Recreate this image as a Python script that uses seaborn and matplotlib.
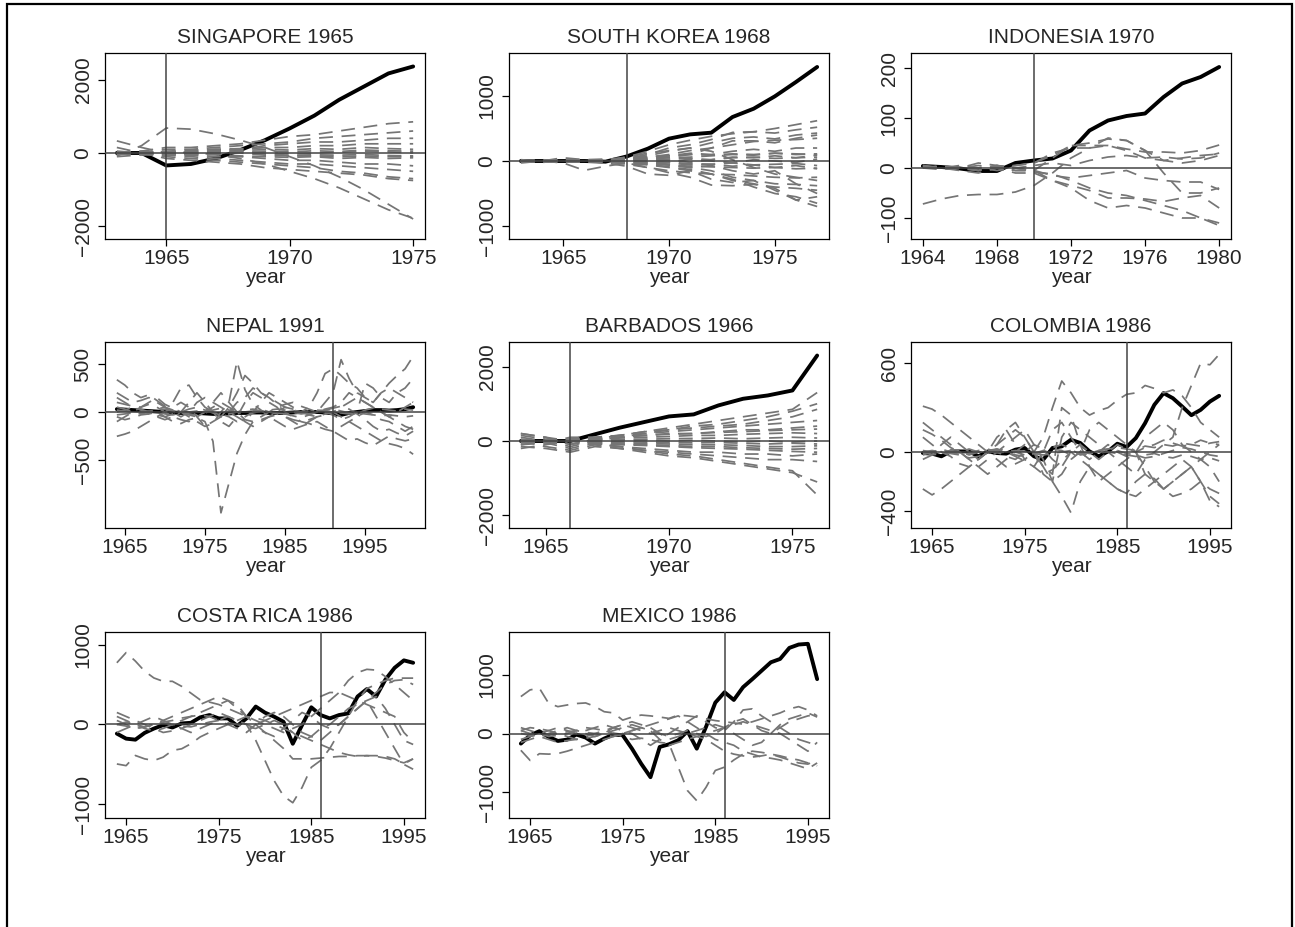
import matplotlib
matplotlib.use("Agg")
import matplotlib.pyplot as plt
import seaborn as sns
import pandas as pd
from matplotlib.patches import Rectangle

sns.set_style("ticks")
plt.rcParams["font.family"] = ["Liberation Sans", "DejaVu Sans"]

# ---------------- data ----------------
SG_YEARS = list(range(1963, 1976))
SG_TREAT = [0, 0, -340, -300, -150, 80, 350, 670, 1020, 1450, 1810, 2170, 2360]
SG_PLACEBO = [
    [330, 150, 0, 20, -50, -150, -300, -500, -700, -950, -1250, -1550, -1780],
    [-80, 200, 680, 650, 520, 350, 150, -100, -350, -650, -1000, -1400, -1800],
    [0, 50, 150, 150, 200, 250, 350, 450, 500, 600, 700, 800, 850],
    [50, 0, 100, 100, 150, 200, 250, 300, 400, 450, 500, 550, 600],
    [0, -50, -50, 0, 50, 100, 200, 250, 300, 300, 350, 400, 400],
    [-100, -50, 0, 50, 100, 100, 150, 150, 200, 200, 250, 250, 250],
    [0, 0, -100, -150, -200, -250, -300, -350, -400, -500, -550, -650, -700],
    [150, 0, -150, -200, -250, -300, -400, -450, -500, -550, -600, -700, -750],
    [0, 50, 0, -50, -100, -100, -150, -200, -200, -250, -300, -300, -350],
    [-50, 0, -50, -100, -150, -200, -250, -300, -300, -350, -400, -450, -500],
    [0, 0, 50, 80, 100, 120, 100, 80, 120, 100, 150, 120, 100],
    [0, 0, -50, -60, -40, -80, -100, -120, -100, -150, -120, -150, -130],
    [0, 0, 20, 40, 60, 50, 0, -20, 0, 20, 50, 30, 0],
    [0, 0, -20, -30, -10, 30, -30, -60, -50, -60, -40, -70, -80],
    [0, 10, 30, 10, 30, 60, 50, 30, 60, 40, 80, 60, 50],
    [0, -10, -40, -20, 0, 0, -60, -80, -80, -100, -80, -100, -100],
]

SK_YEARS = list(range(1963, 1978))
SK_TREAT = [0, 0, 0, 0, -10, 70, 190, 344, 410, 436, 677, 805, 995, 1216, 1447]
SK_PLACEBO = [
    [0, 0, 30, 0, 20, 60, 150, 250, 320, 380, 420, 450, 500, 560, 620],
    [-30, 0, 0, -20, 0, 40, 100, 200, 250, 330, 440, 450, 430, 480, 520],
    [20, 0, 50, 20, 0, 30, 80, 150, 200, 280, 350, 370, 340, 400, 430],
    [0, -20, 0, 10, -20, 20, 60, 100, 160, 200, 250, 300, 320, 330, 350],
    [0, 0, -20, 0, 20, 10, 40, 80, 120, 100, 150, 180, 150, 200, 200],
    [0, 0, 20, 10, 0, 0, 30, 50, 60, 80, 100, 90, 120, 110, 100],
    [0, 0, 0, -10, 10, 20, 0, -20, 30, 0, -30, 20, 0, -20, 30],
    [0, 10, 0, 0, -10, -10, -40, -30, -60, -50, -80, -60, -100, -70, -120],
    [0, 0, 20, 20, 30, 40, 20, 10, -20, 20, 60, 50, 80, 50, 90],
    [0, 0, -30, -144, -80, -30, -100, -150, -180, -200, -210, -230, -250, -260, -250],
    [0, -20, 0, 0, -30, -80, -200, -220, -150, -280, -330, -300, -350, -360, -380],
    [0, 0, 0, -20, 0, -50, -100, -180, -250, -370, -380, -360, -400, -420, -450],
    [0, 20, 0, 0, -20, -40, -60, -100, -150, -200, -300, -350, -420, -600, -550],
    [0, 0, -20, 0, 0, -20, -50, -90, -130, -200, -280, -400, -500, -550, -650],
    [0, -10, 0, 10, 0, -10, -30, -60, -100, -150, -250, -300, -450, -600, -700],
    [0, 0, 0, 0, 0, 60, 120, 160, 200, 150, 20, -100, -200, -250, -300],
    [0, 0, 0, 0, -10, 0, 40, 60, 100, 200, 310, 310, 280, 350, 400],
    [0, 0, 0, 0, 0, 10, -20, -60, -100, -70, -150, -200, -150, -350, -500],
    [0, 0, 0, 0, 0, 30, 60, 80, 100, 90, 110, 100, 120, 100, 110],
    [0, 0, 0, 0, 0, -20, -50, -60, -80, -90, -100, -110, -100, -120, -110],
    [0, 0, 0, 0, 0, 20, 20, 30, 40, 20, 50, 60, 40, 50, 60],
    [0, 0, 0, 0, 0, -10, -20, -20, -40, -50, -30, -60, -50, -40, -70],
]

ID_YEARS = list(range(1964, 1981))
ID_TREAT = [4, 2, -1, -6, -6, 10, 15, 19, 35, 75, 95, 104, 109, 142, 169, 182, 202]
ID_PLACEBO = [
    [-72, -62, -55, -53, -53, -48, -35, -10, 20, 40, 45, 35, 20, 15, 20, 25, 28],
    [5, 0, -5, -10, 0, -5, -5, 20, 45, 45, 45, 38, 32, 32, 30, 35, 46],
    [0, 3, 0, 5, 0, 5, 10, 30, 40, 40, 60, 55, 35, 15, 10, 15, 25],
    [3, 2, 0, -5, 5, -5, -5, -15, -20, -15, -10, -5, -20, -25, -28, -28, -43],
    [0, 5, 0, -5, 0, -10, -10, -25, -35, -45, -60, -60, -62, -67, -60, -55, -80],
    [2, 0, 5, 0, -5, 0, -5, -25, -40, -65, -80, -75, -80, -90, -100, -100, -115],
    [5, 0, 0, 10, 5, 0, -8, -12, -25, -40, -50, -55, -65, -75, -85, -100, -110],
    [0, 3, 0, -5, 3, 5, 10, 25, 45, 50, 58, 55, 35, -10, -50, -50, -40],
    [0, -3, 0, 0, 5, 0, 5, 10, 5, 15, 22, 25, 20, 22, 18, 20, 30],
]

NP_YEARS = list(range(1964, 2002))
NP_TREAT = [30, 25, 20, 15, 10, 5, 0, -5, -10, -10, -10, -15, -20, -20, -15, -10, -10, -5, -5, -10,
            -10, -10, -5, 0, 0, 0, -5, -15, -30, -10, 0, 10, 20, 20, 15, 20, 30, 50]
NP_PLACEBO = [
    [-50, -80, -60, -30, -20, 0, -50, -100, -120, -80, -60, -100, -305, -1050, -740, -430, -236, -100, -80, -50,
     -30, -20, -40, -60, -30, 0, 20, 40, 60, 30, -20, -80, -150, -200, -180, -220, -250, -200],
    [100, 80, 60, 50, 100, 150, 80, 40, 0, -50, -100, -150, -120, 0, 100, 527, 232, 80, 20, -50,
     -100, -150, -180, -150, -120, -100, -150, -200, -250, -300, -280, -320, -350, -300, -250, -280, -300, -280],
    [336, 280, 200, 150, 180, 120, 60, 100, 250, 280, 150, 50, 0, -50, 50, 200, 380, 300, 200, 150,
     100, 50, 20, 0, 50, 200, 400, 450, 380, 300, 250, 150, 100, 200, 300, 380, 450, 580],
    [-253, -230, -200, -150, -100, -50, 0, 50, 100, 50, -50, -150, -100, -50, 0, 100, 150, 250, 200, 150,
     80, 0, -50, -100, -120, -150, -180, -200, -150, -100, -50, 0, -30, -80, -100, -150, -200, -150],
    [50, 30, 0, -20, 0, 30, 50, 20, 0, -30, -50, 0, 50, 100, 50, 0, -80, -100, -50, 0,
     50, 80, 100, 60, 30, 0, 100, 200, 545, 350, 200, 150, 100, 200, 250, 200, 150, 100],
    [0, 20, 50, 30, 0, -30, -50, -20, 0, 30, 50, 20, 0, -20, -50, -100, -50, 0, 30, 0,
     -20, -50, -80, -100, -80, -50, -30, 0, -50, -100, -150, -200, -250, -300, -330, -350, -380, -440],
    [200, 150, 100, 120, 150, 100, 50, 0, -50, 0, 100, 150, 100, 50, 0, -50, -100, 0, 100, 200,
     150, 100, 50, 0, -30, -50, -20, 0, 50, 100, 150, 100, 50, 0, -50, -100, -150, -180],
    [-30, -20, -10, 0, 10, 0, -20, -30, -10, 0, 10, 20, -10, -30, -20, 0, 20, 30, 10, 0,
     -10, -20, -10, 0, 10, 20, 10, 0, -10, -20, -10, -20, -30, -40, -30, -40, -50, -40],
    [20, 10, 0, -10, 0, 20, 30, 10, 0, -20, -30, -10, 20, 40, 20, 0, -20, -10, 10, 20,
     30, 20, 0, -20, -10, 10, 20, 30, 10, -10, -20, 20, 40, 30, 20, 10, 30, 20],
    [-100, -50, 0, 50, 80, 50, 0, -50, -80, -100, -50, 0, 100, 200, 100, 0, -100, -150, -100, -50,
     0, 50, 30, 0, -20, 0, 30, 50, 100, 200, 150, 100, 50, 0, -50, 0, 50, 100],
    [150, 100, 50, 20, -20, -50, -80, -50, 0, 100, 200, 100, 0, -100, -150, -50, 100, 200, 150, 100,
     50, -50, -100, -150, -100, -50, 0, -30, -80, -50, 0, 300, 250, 150, 100, 200, 250, 350],
]

BB_YEARS = list(range(1964, 1977))
BB_TREAT = [0, 0, 0, 180, 357, 509, 660, 714, 955, 1134, 1223, 1357, 2295]
BB_PLACEBO = [
    [200, 100, -100, 50, 150, 250, 350, 450, 550, 650, 750, 850, 1300],
    [-100, 0, -150, 0, 100, 200, 300, 400, 450, 550, 650, 800, 1000],
    [150, 50, 50, 100, 150, 250, 300, 350, 400, 450, 550, 650, 850],
    [0, -50, 100, 100, 150, 200, 250, 300, 350, 400, 450, 500, 550],
    [-200, -100, 0, 50, 100, 150, 200, 200, 250, 300, 300, 350, 400],
    [0, 0, 50, 50, 80, 100, 120, 150, 150, 180, 200, 220, 200],
    [0, 0, 0, 30, 40, 50, 60, 70, 80, 60, 80, 100, 80],
    [100, 0, 0, 0, -20, -30, -40, -50, -40, -60, -80, -60, -80],
    [-50, 0, -80, -50, -80, -100, -120, -150, -150, -180, -200, -220, -200],
    [0, -150, -250, -100, -150, -200, -250, -300, -300, -350, -350, -400, -350],
    [-150, -200, -300, -150, -200, -250, -300, -350, -400, -450, -500, -500, -550],
    [200, 100, 0, -100, -200, -300, -400, -450, -550, -650, -750, -850, -1100],
    [-100, -50, -200, -50, -150, -250, -350, -400, -500, -600, -700, -800, -1450],
    [50, 0, 0, 50, 30, 20, 0, 20, 0, -20, 0, -30, 0],
    [-50, 0, 0, -40, -50, -70, -80, -100, -100, -120, -150, -150, -130],
    [0, 0, 0, 80, 100, 150, 180, 200, 230, 250, 280, 300, 320],
    [0, 0, 0, -80, -100, -120, -150, -180, -200, -220, -250, -280, -300],
]

CO_YEARS = list(range(1964, 1997))
CO_TREAT = [-7, -11, -29, 4, 4, 4, -29, 4, -7, -11, 16, 27, -29, -52, 27, 38, 83, 61, 4, -29,
            4, 56, 34, 94, 195, 319, 398, 364, 308, 249, 285, 341, 380]
CO_PLACEBO = [
    [310, 290, 250, 200, 150, 100, 50, 0, -50, -100, -80, -50, 0, 100, 300, 480, 400, 300, 250, 280,
     300, 350, 390, 400, 450, 430, 400, 420, 380, 300, 200, 150, 100],
    [-250, -290, -250, -200, -150, -100, -50, 0, 50, 100, 150, 100, 0, -100, -200, -300, -411, -200, -100, -150,
     -200, -250, -280, -300, -250, -200, -150, -100, -50, -100, -200, -300, -350],
    [200, 150, 100, 50, 0, -50, -100, -50, 0, 50, 100, 150, 50, -50, -200, 100, 200, 150, 100, 50,
     0, -50, -100, -150, -50, 0, 50, 100, 300, 450, 600, 590, 660],
    [100, 50, 0, -30, -80, -100, -50, 0, 50, 150, 200, 100, 0, -100, -150, 300, 250, 50, -100, -200,
     -150, -100, -50, 0, -100, -200, -250, -200, -150, -100, -50, 0, 50],
    [-20, 0, 20, 0, -20, -10, 10, 20, 0, -30, -50, 0, 50, 20, -50, -100, 0, 50, 0, -50,
     0, 50, 20, 0, 30, 50, 80, 60, 40, 50, 80, 60, 50],
    [0, -20, -10, 10, 0, -20, 0, 10, 20, 0, -20, -30, -10, 10, 30, 50, 20, -20, -10, 10,
     20, 10, -10, -20, -40, -30, -10, 10, 30, 20, 0, -20, -30],
    [150, 120, 80, 30, 0, -50, -100, -150, -100, -50, 0, 50, 0, -150, -200, -150, -50, 0, 150, 200,
     150, 100, 50, 0, -150, -200, -250, -200, -150, -100, -200, -330, -370],
    [-50, -20, 50, 100, 50, 0, -50, 0, 100, 150, 50, -50, -100, 0, 150, 200, 100, 0, -50, 0,
     50, 0, -30, 0, 100, 150, 200, 150, 50, 0, -50, -100, -200],
    [10, 0, -10, 0, 10, 20, 0, -10, 10, 20, 0, -20, -10, 0, 20, 10, -20, -10, 0, 10,
     20, 30, 20, 10, 40, 30, 50, 40, 60, 50, 40, 60, 70],
    [-10, -5, 0, 5, -5, -10, 0, 5, -5, 0, 10, 5, -10, -20, -10, 0, 10, 0, -10, -5,
     0, -10, -20, -30, -20, -10, -30, -40, -20, -30, -50, -40, -60],
    [0, 10, 0, -10, -20, -40, -30, 0, 20, 0, -30, -60, -100, -150, -120, -60, 0, -50, -100, -150,
     -200, -250, -280, -200, -150, -180, -250, -300, -280, -250, -200, -250, -280],
]

CR_YEARS = list(range(1964, 1997))
CR_TREAT = [-114, -177, -190, -105, -51, -8, -38, 13, 21, 89, 118, 76, 76, -17, 76, 224, 148, 97, 34, -241,
            -8, 215, 118, 76, 118, 139, 350, 443, 350, 561, 709, 802, 772]
CR_PLACEBO = [
    [772, 899, 793, 667, 582, 540, 540, 477, 392, 308, 280, 250, 200, 150, 100, 50, 0, -50, -100, -50,
     0, 100, 200, 300, 400, 550, 650, 690, 680, 600, 500, 400, 300],
    [-494, -515, -388, -430, -451, -409, -325, -304, -241, -156, -100, -50, 0, 50, 100, 80, 50, 0, -50, -100,
     -150, -200, -250, -300, -350, -380, -400, -390, -390, -400, -430, -494, -430],
    [150, 100, 50, 0, -50, -100, -80, -50, 0, 50, 100, 150, 100, 50, 0, -198, -451, -705, -895, -979,
     -789, -536, -451, -300, -100, 100, 300, 450, 500, 550, 580, 580, 580],
    [100, 50, 0, -50, -80, -50, 0, 50, 100, 150, 200, 250, 300, 250, 100, 0, -100, -200, -300, -430,
     -430, -430, -420, -410, -400, -400, -390, -390, -400, -420, -450, -480, -430],
    [50, 0, -50, -30, 0, 30, 50, 80, 100, 120, 100, 50, 0, -50, -100, 0, 100, 150, 100, 0,
     -100, -150, -200, -100, 0, 100, 200, 300, 100, -100, -300, -500, -560],
    [0, 30, 0, -30, 0, 50, 100, 150, 200, 250, 300, 350, 300, 200, 100, 0, 50, 100, 150, 200,
     250, 300, 350, 400, 400, 350, 300, 250, 200, 150, 100, -100, -220],
    [-100, -50, 0, 50, 100, 50, 0, -50, -100, -50, 0, 50, 100, 50, 0, -50, -100, -150, -50, 50,
     150, 100, 0, -50, 0, 100, 200, 300, 400, 500, 550, 560, 500],
    [0, -20, -50, -30, 0, 20, 0, -20, -30, 0, 30, 50, 20, 0, -30, -50, 0, 50, 0, -100,
     -200, -150, -50, 0, 100, 200, 250, 300, 350, 200, 0, -200, -250],
]

MX_YEARS = list(range(1964, 1997))
MX_TREAT = [-171, -29, 40, -57, -126, -103, -17, -69, -171, -86, -17, -29, -257, -514, -742, -228, -183, -114, 40, -257,
            114, 525, 702, 571, 788, 925, 1068, 1211, 1268, 1456, 1513, 1525, 925]
MX_PLACEBO = [
    [628, 742, 771, 514, 457, 485, 510, 520, 460, 371, 350, 228, 280, 314, 300, 280, 257, 314, 300, 280,
     250, 220, 200, 180, 160, 200, 250, 300, 350, 420, 457, 400, 300],
    [100, 50, 0, -50, -30, 0, 50, 100, 80, 50, 0, -50, -100, -80, -100, -150, -171, -571, -971, -1142,
     -914, -628, -571, -450, -350, -300, -320, -350, -380, -420, -450, -500, -550],
    [-285, -457, -343, -350, -340, -300, -250, -200, -150, -100, -50, 0, 50, 100, 150, 200, 250, 300, 200, 100,
     0, -100, -150, -200, -300, -350, -400, -420, -450, -500, -550, -600, -500],
    [-100, -50, 0, 50, 100, 50, 0, 50, 100, 150, 100, 50, 0, -100, -200, -100, 0, 100, 200, 300,
     200, 100, 50, 200, 400, 420, 300, 200, 100, 0, -100, -150, -200],
    [50, 100, 80, 50, 0, -50, -100, -50, 0, 50, 100, 150, 200, 150, 100, 0, -100, -50, 0, 50,
     100, 150, 100, 0, -100, -200, -150, 0, 150, 250, 300, 350, 280],
    [0, -30, -50, -20, 0, 30, 50, 20, 0, -30, -50, 0, 50, 100, 50, 0, -50, 0, 50, 0,
     -50, 0, 100, 200, 250, 150, 50, 0, 100, 200, 250, 300, 320],
    [-150, -100, -50, -100, -150, -120, -100, -80, -50, 0, 50, 100, 150, 100, 50, -100, -200, -150, -100, -50,
     -100, -200, -300, -350, -380, -400, -380, -350, -400, -450, -500, -520, -450],
    [50, 0, -50, 0, 50, 100, 50, 0, -50, 0, 100, 150, 100, 50, 0, 50, 100, 50, 0, -50,
     0, 50, 100, 150, 200, 150, 100, 50, 0, -100, -200, -300, -150],
]

TITLES = ["SINGAPORE 1965", "SOUTH KOREA 1968", "INDONESIA 1970", "NEPAL 1991",
          "BARBADOS 1966", "COLOMBIA 1986", "COSTA RICA 1986", "MEXICO 1986"]
TREAT_YEAR = [1965, 1968, 1970, 1991, 1966, 1986, 1986, 1986]
YTICKS = [[-2000, 0, 2000], [-1000, 0, 1000], [-100, 0, 100, 200], [-500, 0, 500],
          [-2000, 0, 2000], [-400, 0, 600], [-1000, 0, 1000], [-1000, 0, 1000]]
XTICKS = [[1965, 1970, 1975], [1965, 1970, 1975], [1964, 1968, 1972, 1976, 1980],
          [1965, 1975, 1985, 1995], [1965, 1970, 1975], [1965, 1975, 1985, 1995],
          [1965, 1975, 1985, 1995], [1965, 1975, 1985, 1995]]
YLIMS = [(-2346, 2727), (-1200, 1662), (-142, 230), (-1208, 729),
         (-2336, 2658), (-514, 744), (-1170, 1157), (-1436, 1726)]

PANELS = [
    (SG_YEARS, SG_TREAT, SG_PLACEBO),
    (SK_YEARS, SK_TREAT, SK_PLACEBO),
    (ID_YEARS, ID_TREAT, ID_PLACEBO),
    (NP_YEARS, NP_TREAT, NP_PLACEBO),
    (BB_YEARS, BB_TREAT, BB_PLACEBO),
    (CO_YEARS, CO_TREAT, CO_PLACEBO),
    (CR_YEARS, CR_TREAT, CR_PLACEBO),
    (MX_YEARS, MX_TREAT, MX_PLACEBO),
]

# ---------------- layout ----------------
W, H = 1295, 927
fig = plt.figure(figsize=(W / 100, H / 100), dpi=100)

col_left = [105, 509, 911]
row_top = [53, 342, 632]
ax_w, ax_h = 320, 186

GRAY = "#757575"
REF = "#444444"
FS = 15

for i, (years, treat, placebo) in enumerate(PANELS):
    r, c = divmod(i, 3)
    ax = fig.add_axes([col_left[c] / W, 1 - (row_top[r] + ax_h) / H, ax_w / W, ax_h / H])

    # treated unit (black solid)
    sns.lineplot(x=years, y=treat, ax=ax, color="black", lw=2.8, legend=False)

    # placebo units (gray dashed)
    rows = []
    for k, series in enumerate(placebo):
        for yr, v in zip(years, series):
            rows.append({"year": yr, "gap": v, "unit": k})
    df = pd.DataFrame(rows)
    sns.lineplot(data=df, x="year", y="gap", units="unit", estimator=None,
                 color=GRAY, lw=1.25, linestyle=(0, (8.0, 5.0)), legend=False, ax=ax)

    ax.axhline(0, color=REF, lw=1.1, zorder=5)
    ax.axvline(TREAT_YEAR[i], color=REF, lw=1.1, zorder=5)

    x0, x1 = years[0], years[-1]
    pad = (x1 - x0) * 0.04
    ax.set_xlim(x0 - pad, x1 + pad)
    ax.set_ylim(*YLIMS[i])
    ax.set_xticks(XTICKS[i])
    ax.set_yticks(YTICKS[i])
    ax.set_yticklabels([f"{t}".replace("-", "\u2212") for t in YTICKS[i]],
                       rotation=90, va="center")
    ax.set_xlabel("year", fontsize=FS, labelpad=0)
    ax.set_ylabel("")
    ax.set_title(TITLES[i], fontsize=15, pad=7)
    ax.tick_params(axis="both", direction="out", length=5, width=0.9,
                   labelsize=FS, color="black")
    ax.tick_params(axis="x", pad=2)
    ax.tick_params(axis="y", pad=4)
    for s in ax.spines.values():
        s.set_visible(True)
        s.set_linewidth(0.9)
        s.set_color("black")

# outer frame
fig.patches.append(Rectangle((7 / W, -0.02), (1292 - 7) / W, 1.02 - 4 / H,
                             transform=fig.transFigure, fill=False,
                             edgecolor="black", lw=1.6))

fig.savefig("out.png", dpi=100)
